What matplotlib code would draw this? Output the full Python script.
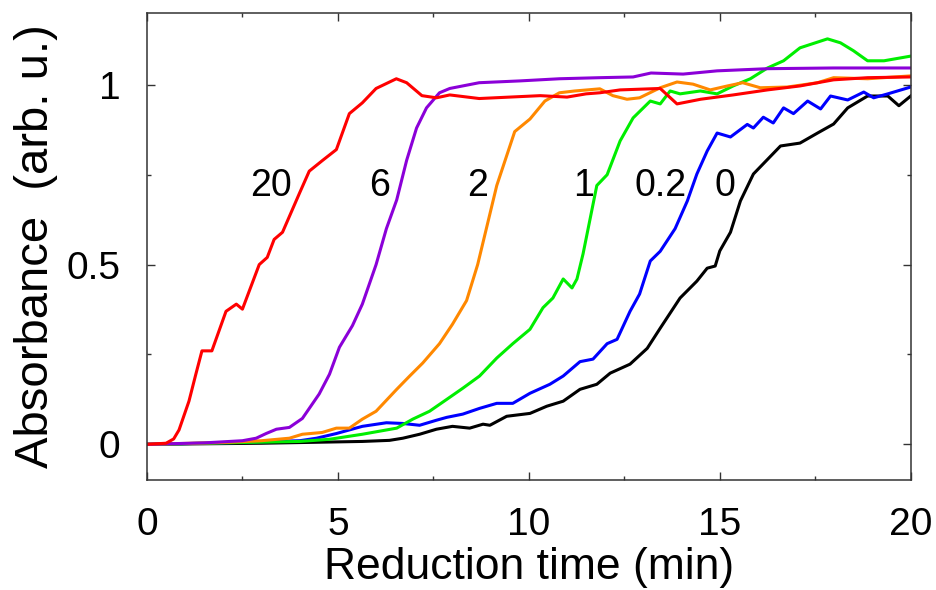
import numpy as np
import matplotlib
matplotlib.use("Agg")
import matplotlib.pyplot as plt

plt.rcParams['font.family'] = ['Liberation Sans', 'DejaVu Sans']

# (time in min, absorbance)
t_20 = [0, 0.5, 0.7, 0.84, 1.1, 1.28, 1.44, 1.7, 2.07, 2.34, 2.5, 2.94, 3.15, 3.33, 3.55,
        4.0, 4.25, 4.6, 4.96, 5.3, 5.64, 6.0, 6.53, 6.8, 7.2, 7.58, 7.93, 8.7, 9.5, 10.3,
        11.0, 11.5, 11.86, 12.39, 13.44, 13.88, 14.5, 15.35, 16.25, 17.1, 17.98, 18.87, 20]
a_20 = [0, 0.003, 0.015, 0.04, 0.12, 0.195, 0.26, 0.26, 0.37, 0.39, 0.376, 0.5, 0.52, 0.57, 0.59,
        0.70, 0.76, 0.79, 0.82, 0.92, 0.95, 0.99, 1.017, 1.006, 0.97, 0.964, 0.972, 0.962, 0.966, 0.97,
        0.966, 0.975, 0.978, 0.986, 0.99, 0.947, 0.96, 0.972, 0.986, 0.997, 1.014, 1.02, 1.022]

t_6 = [0, 1.5, 2.5, 2.86, 3.12, 3.39, 3.73, 4.07, 4.51, 4.78, 5.04, 5.38, 5.64, 6.0, 6.27,
       6.54, 6.8, 7.06, 7.32, 7.66, 7.93, 8.7, 9.76, 10.8, 11.86, 12.73, 13.2, 14.04, 14.93,
       16.25, 17.98, 20]
a_6 = [0, 0.004, 0.01, 0.017, 0.03, 0.042, 0.047, 0.072, 0.14, 0.195, 0.27, 0.33, 0.39, 0.5, 0.6,
       0.68, 0.79, 0.88, 0.936, 0.978, 0.99, 1.006, 1.011, 1.017, 1.02, 1.022, 1.033, 1.03, 1.039,
       1.045, 1.047, 1.047]

t_2 = [0, 2.0, 3.0, 3.73, 4.07, 4.59, 4.96, 5.3, 5.64, 6.0, 6.54, 6.88, 7.22, 7.66, 8.0, 8.37,
       8.66, 9.16, 9.63, 10.03, 10.42, 10.8, 11.2, 11.86, 12.2, 12.57, 12.9, 13.44, 13.88, 14.3,
       14.75, 15.2, 15.6, 16.06, 16.77, 17.56, 17.98, 18.87, 20]
a_2 = [0, 0.005, 0.01, 0.017, 0.028, 0.033, 0.045, 0.045, 0.07, 0.092, 0.153, 0.19, 0.226, 0.28,
       0.334, 0.4, 0.5, 0.72, 0.87, 0.905, 0.955, 0.978, 0.983, 0.989, 0.97, 0.96, 0.964, 0.992,
       1.008, 1.002, 0.986, 0.997, 1.006, 0.992, 0.994, 1.006, 1.02, 1.017, 1.025]

t_1 = [0, 2.0, 4.0, 4.78, 5.64, 6.54, 6.96, 7.4, 7.85, 8.27, 8.71, 9.16, 9.58, 10.03, 10.37,
       10.63, 10.9, 11.13, 11.26, 11.42, 11.78, 12.05, 12.39, 12.73, 13.18, 13.44, 13.7, 13.96,
       14.49, 14.93, 15.35, 15.8, 16.25, 16.67, 17.1, 17.82, 18.16, 18.5, 18.87, 19.3, 20]
a_1 = [0, 0.004, 0.008, 0.014, 0.028, 0.045, 0.07, 0.092, 0.125, 0.156, 0.19, 0.24, 0.28, 0.32,
       0.38, 0.407, 0.46, 0.435, 0.46, 0.53, 0.72, 0.75, 0.844, 0.908, 0.955, 0.947, 0.983, 0.975,
       0.983, 0.975, 0.997, 1.017, 1.047, 1.067, 1.103, 1.128, 1.117, 1.095, 1.067, 1.067, 1.08]

t_02 = [0, 2.0, 4.0, 4.44, 4.96, 5.64, 6.27, 6.7, 7.14, 7.58, 7.85, 8.27, 8.71, 9.16, 9.58,
        10.03, 10.55, 10.9, 11.34, 11.68, 12.05, 12.31, 12.65, 12.9, 13.18, 13.44, 13.83, 14.15,
        14.4, 14.67, 14.93, 15.28, 15.72, 15.88, 16.14, 16.4, 16.67, 16.93, 17.3, 17.64, 17.9,
        18.35, 18.77, 19.03, 19.4, 20]
a_02 = [0, 0.004, 0.01, 0.017, 0.03, 0.05, 0.06, 0.058, 0.053, 0.067, 0.075, 0.084, 0.1, 0.114,
        0.114, 0.142, 0.167, 0.19, 0.23, 0.237, 0.28, 0.292, 0.37, 0.418, 0.51, 0.537, 0.6, 0.677,
        0.752, 0.816, 0.866, 0.855, 0.89, 0.88, 0.91, 0.894, 0.936, 0.92, 0.955, 0.933, 0.969,
        0.958, 0.98, 0.964, 0.975, 0.994]

t_0 = [0, 3.0, 5.64, 6.35, 6.7, 7.14, 7.58, 8.0, 8.45, 8.8, 8.98, 9.42, 10.03, 10.47, 10.9,
       11.34, 11.78, 12.13, 12.65, 13.1, 13.44, 13.96, 14.4, 14.67, 14.88, 15.0, 15.28, 15.54,
       15.88, 16.59, 17.1, 17.56, 17.98, 18.35, 18.87, 19.4, 19.69, 20]
a_0 = [0, 0.003, 0.008, 0.011, 0.017, 0.028, 0.042, 0.05, 0.045, 0.056, 0.053, 0.078, 0.086,
       0.106, 0.12, 0.153, 0.167, 0.198, 0.223, 0.267, 0.323, 0.407, 0.454, 0.49, 0.496, 0.538,
       0.59, 0.677, 0.752, 0.83, 0.838, 0.866, 0.891, 0.936, 0.969, 0.969, 0.942, 0.969]

labels = ['20', '6', '2', '1', '0.2', '0']
label_x = [3.25, 6.09, 8.66, 11.42, 13.44, 15.14]
label_y = [0.72, 0.72, 0.72, 0.72, 0.72, 0.72]

series = [(t_20, a_20, '#ff0000'), (t_6, a_6, '#8b00d8'), (t_2, a_2, '#ff8800'),
          (t_1, a_1, '#00ee00'), (t_02, a_02, '#0000ff'), (t_0, a_0, '#000000')]

fig = plt.figure(figsize=(9.36, 5.9), dpi=100)
ax = fig.add_axes([0.157, 0.186, 0.816, 0.792])

# draw black first so colored curves sit on top like the original
for t, a, c in reversed(series):
    ax.plot(t, a, color=c, lw=2.2)

for s, x, y in zip(labels, label_x, label_y):
    ax.text(x, y, s, fontsize=27, ha='center', va='center')

ax.set_xlim(0, 20)
ax.set_ylim(-0.1, 1.2)
ax.set_xticks([0, 5, 10, 15, 20])
ax.set_xticks([2.5, 7.5, 12.5, 17.5], minor=True)
ax.set_yticks([0, 0.5, 1])
ax.set_yticklabels(['0', '0.5', '1'])
ax.set_yticks([0.25, 0.75], minor=True)
ax.tick_params(which='both', direction='in', top=True, right=True, labelsize=28, width=1, color='#333333')
ax.tick_params(which='major', length=6)
ax.tick_params(which='minor', length=3)
ax.tick_params(axis='x', which='major', pad=19)
ax.tick_params(axis='y', which='major', pad=19)
for sp in ax.spines.values():
    sp.set_linewidth(1.1)
    sp.set_color('#333333')

ax.set_xlabel('Reduction time (min)', fontsize=32, labelpad=3)
ax.set_ylabel('Absorbance  (arb. u.)', fontsize=34, labelpad=6)

fig.savefig('out.png', dpi=100)
